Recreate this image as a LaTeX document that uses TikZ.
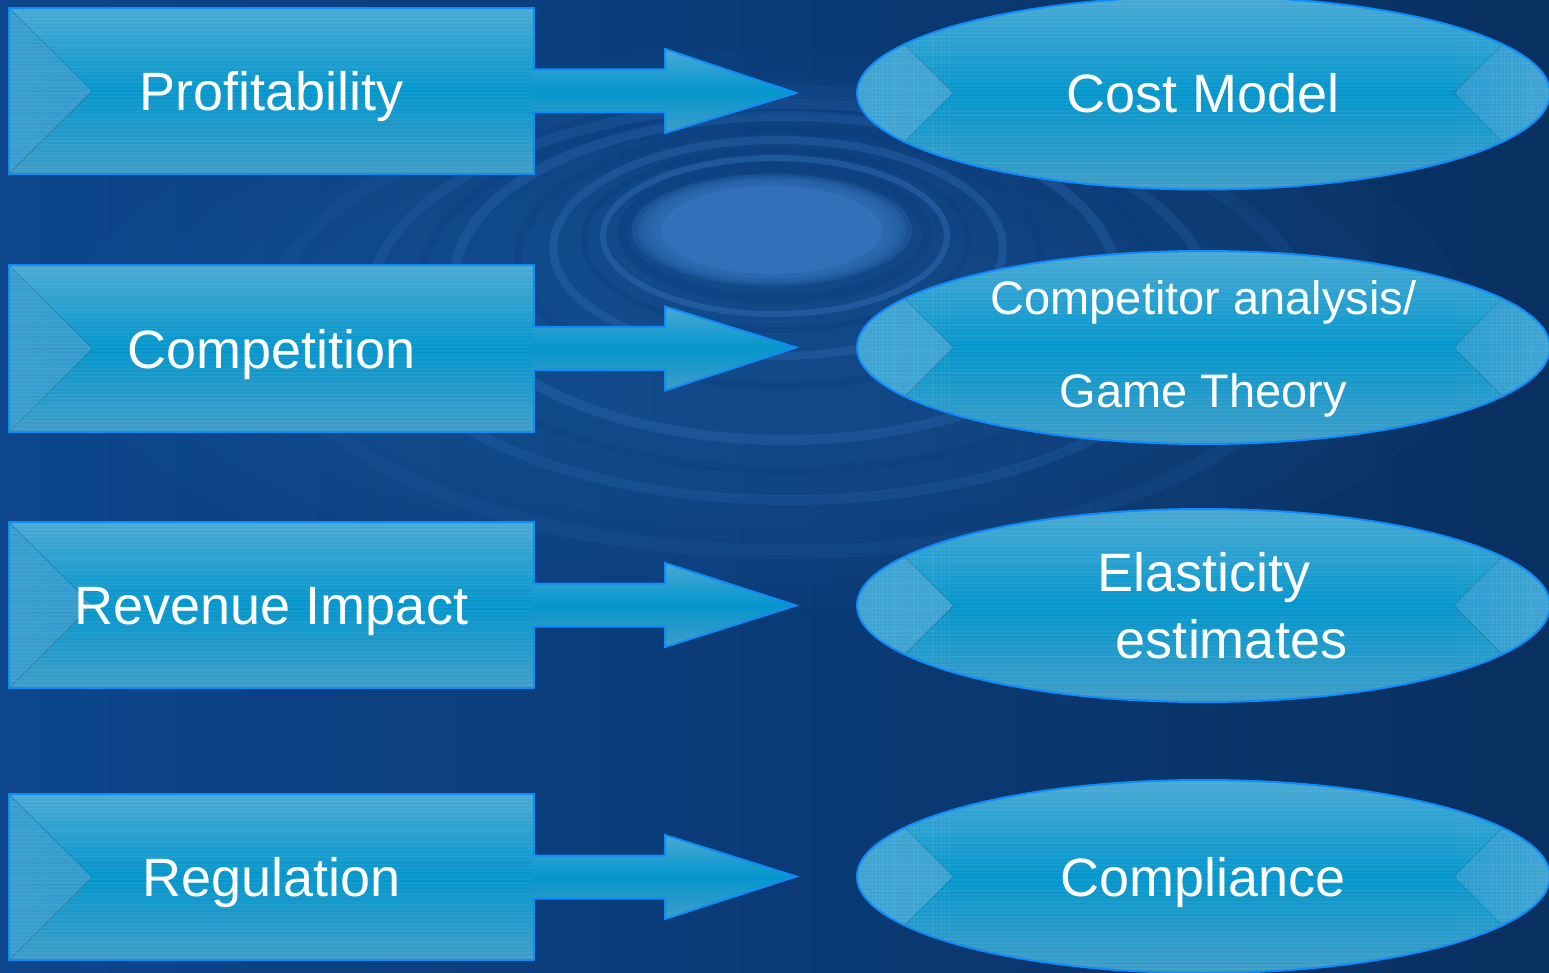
\documentclass[tikz,border=0pt]{standalone}
\usepackage{fontspec}
\setmainfont{Liberation Sans}
\usetikzlibrary{calc,shapes.geometric}

\definecolor{bgL}{RGB}{13,70,140}
\definecolor{bgR}{RGB}{8,48,96}
\definecolor{ripple}{RGB}{50,112,185}
\definecolor{rippledark}{RGB}{9,60,128}
\definecolor{edgeblue}{RGB}{15,140,250}
\definecolor{panelTop}{RGB}{74,170,212}
\definecolor{panelMid}{RGB}{4,150,204}
\definecolor{panelBot}{RGB}{64,158,200}
\definecolor{bevelL}{RGB}{56,158,206}
\definecolor{bevelR}{RGB}{24,150,206}
\definecolor{ovalL}{RGB}{62,164,210}
\definecolor{ovalR}{RGB}{40,156,208}

\pgfdeclareverticalshading{panel}{100bp}{color(0bp)=(panelBot); color(25bp)=(panelBot); color(50bp)=(panelMid); color(75bp)=(panelTop); color(100bp)=(panelTop)}

\tikzset{
  stripes/.style={white, opacity=0.05, line width=1.4pt},
  vstripes/.style={white, opacity=0.05, line width=1.2pt},
  panelbox/.style={draw=edgeblue, line width=2pt, shade, shading=panel,
    minimum width=525pt, minimum height=166pt, inner sep=0pt,
    text=white, font=\fontsize{54}{60}\selectfont, text height=39pt, text depth=0pt,
    path picture={
      \fill[left color=bevelL, right color=bevelR]
        (path picture bounding box.north west) --
        ($(path picture bounding box.west)+(83,0)$) --
        (path picture bounding box.south west) -- cycle;
      \foreach \k in {0,...,45}
        \draw[stripes] ($(path picture bounding box.north west)+(0,3.7*\k)$) -- ++(560,0);
    }},
  goal/.style={ellipse, draw=edgeblue, line width=2pt, shade, shading=panel,
    minimum width=693pt, minimum height=193pt, inner sep=0pt,
    text=white, font=\fontsize{54}{60}\selectfont, text height=39pt, text depth=0pt,
    path picture={
      \fill[left color=ovalL, right color=ovalR]
        (path picture bounding box.north west) --
        ($(path picture bounding box.west)+(96,0)$) --
        (path picture bounding box.south west) -- cycle;
      \fill[left color=ovalR, right color=ovalL]
        (path picture bounding box.north east) --
        ($(path picture bounding box.east)+(-96,0)$) --
        (path picture bounding box.south east) -- cycle;
      \foreach \k in {0,...,52}
        \draw[stripes] ($(path picture bounding box.north west)+(0,3.7*\k)$) -- ++(720,0);
      \foreach \k in {0,...,24} {
        \draw[vstripes] ($(path picture bounding box.north west)+(3.8*\k,0)$) -- ++(0,200);
        \draw[vstripes] ($(path picture bounding box.north east)+(-3.8*\k,0)$) -- ++(0,200);
      }
    }},
  lbl/.style={text=white, anchor=base, inner sep=0pt},
  blockarrow/.style={draw=edgeblue, line width=2pt, shade, shading=panel, line join=miter},
  ring/.style={line width=#1},
}

\begin{document}
\begin{tikzpicture}[x=1pt,y=-1pt]
\useasboundingbox (0,0) rectangle (1549,973);

% water background
\shade[left color=bgL, right color=bgR] (0,0) rectangle (1549,973);
\foreach \r in {1.0,0.9,...,0.3}
  \fill[ripple, opacity=0.05] (770,330) ellipse [x radius=700*\r, y radius=280*\r];

% ripple rings
\draw[rippledark, ring=10, opacity=0.4] (775,233) ellipse [x radius=152, y radius=66];
\draw[ripple, ring=6, opacity=0.45] (775,236) ellipse [x radius=172, y radius=78];
\draw[rippledark, ring=6, opacity=0.4] (776,240) ellipse [x radius=192, y radius=90];
\draw[ripple, ring=8, opacity=0.35] (778,248) ellipse [x radius=225, y radius=108];
\draw[rippledark, ring=8, opacity=0.3] (780,258) ellipse [x radius=262, y radius=128];
\draw[ripple, ring=10, opacity=0.3] (785,278) ellipse [x radius=330, y radius=162];
\draw[rippledark, ring=8, opacity=0.3] (788,290) ellipse [x radius=370, y radius=180];
\draw[ripple, ring=10, opacity=0.22] (790,302) ellipse [x radius=420, y radius=198];
\draw[ripple, ring=14, opacity=0.12] (790,322) ellipse [x radius=520, y radius=230];
% ripple centre, soft edged
\foreach \r in {1.0,0.96,...,0.8}
  \fill[ripple, opacity=0.3] (772,230) ellipse [x radius=140*\r, y radius=56*\r];
\fill[ripple] (772,230) ellipse [x radius=110, y radius=44];

% drivers
\node[panelbox] (p1) at (271.5,91)  {Profitability};
\node[panelbox] (p2) at (271.5,348.5) {Competition};
\node[panelbox] (p3) at (271.5,605) {Revenue Impact};
\node[panelbox] (p4) at (271.5,877) {Regulation};

% responses
\node[goal] (e1) at (1203.5,93) {Cost Model};
\node[goal] (e2) at (1203.5,347.5) {};
\node[lbl, font=\fontsize{47}{50}\selectfont] (e2a) at ($(e2.center)+(0,-33)$) {Competitor analysis/};
\node[lbl, font=\fontsize{47}{50}\selectfont] (e2b) at ($(e2.center)+(0,60)$) {Game Theory};
\node[goal] (e3) at (1203.5,605.5) {};
\node[lbl, font=\fontsize{54}{60}\selectfont] (e3a) at ($(e3.center)+(0.5,-14.5)$) {Elasticity};
\node[lbl, font=\fontsize{54}{60}\selectfont] (e3b) at ($(e3.center)+(28,52.5)$) {estimates};
\node[goal] (e4) at (1203.5,876.5) {Compliance};

% block arrows from each driver towards its response
\foreach \i in {1,...,4} {
  \coordinate (t\i) at ($(e\i.west)+(-60,0)$);
  \path[blockarrow]
    ($(p\i.east)+(-2.5,-21.5)$) -- ($(p\i.east)+(130,-21.5)$) --
    ($(p\i.east)+(130,-42)$) -- (t\i) --
    ($(p\i.east)+(130,42)$) -- ($(p\i.east)+(130,21.5)$) --
    ($(p\i.east)+(-2.5,21.5)$);
}
\end{tikzpicture}
\end{document}
